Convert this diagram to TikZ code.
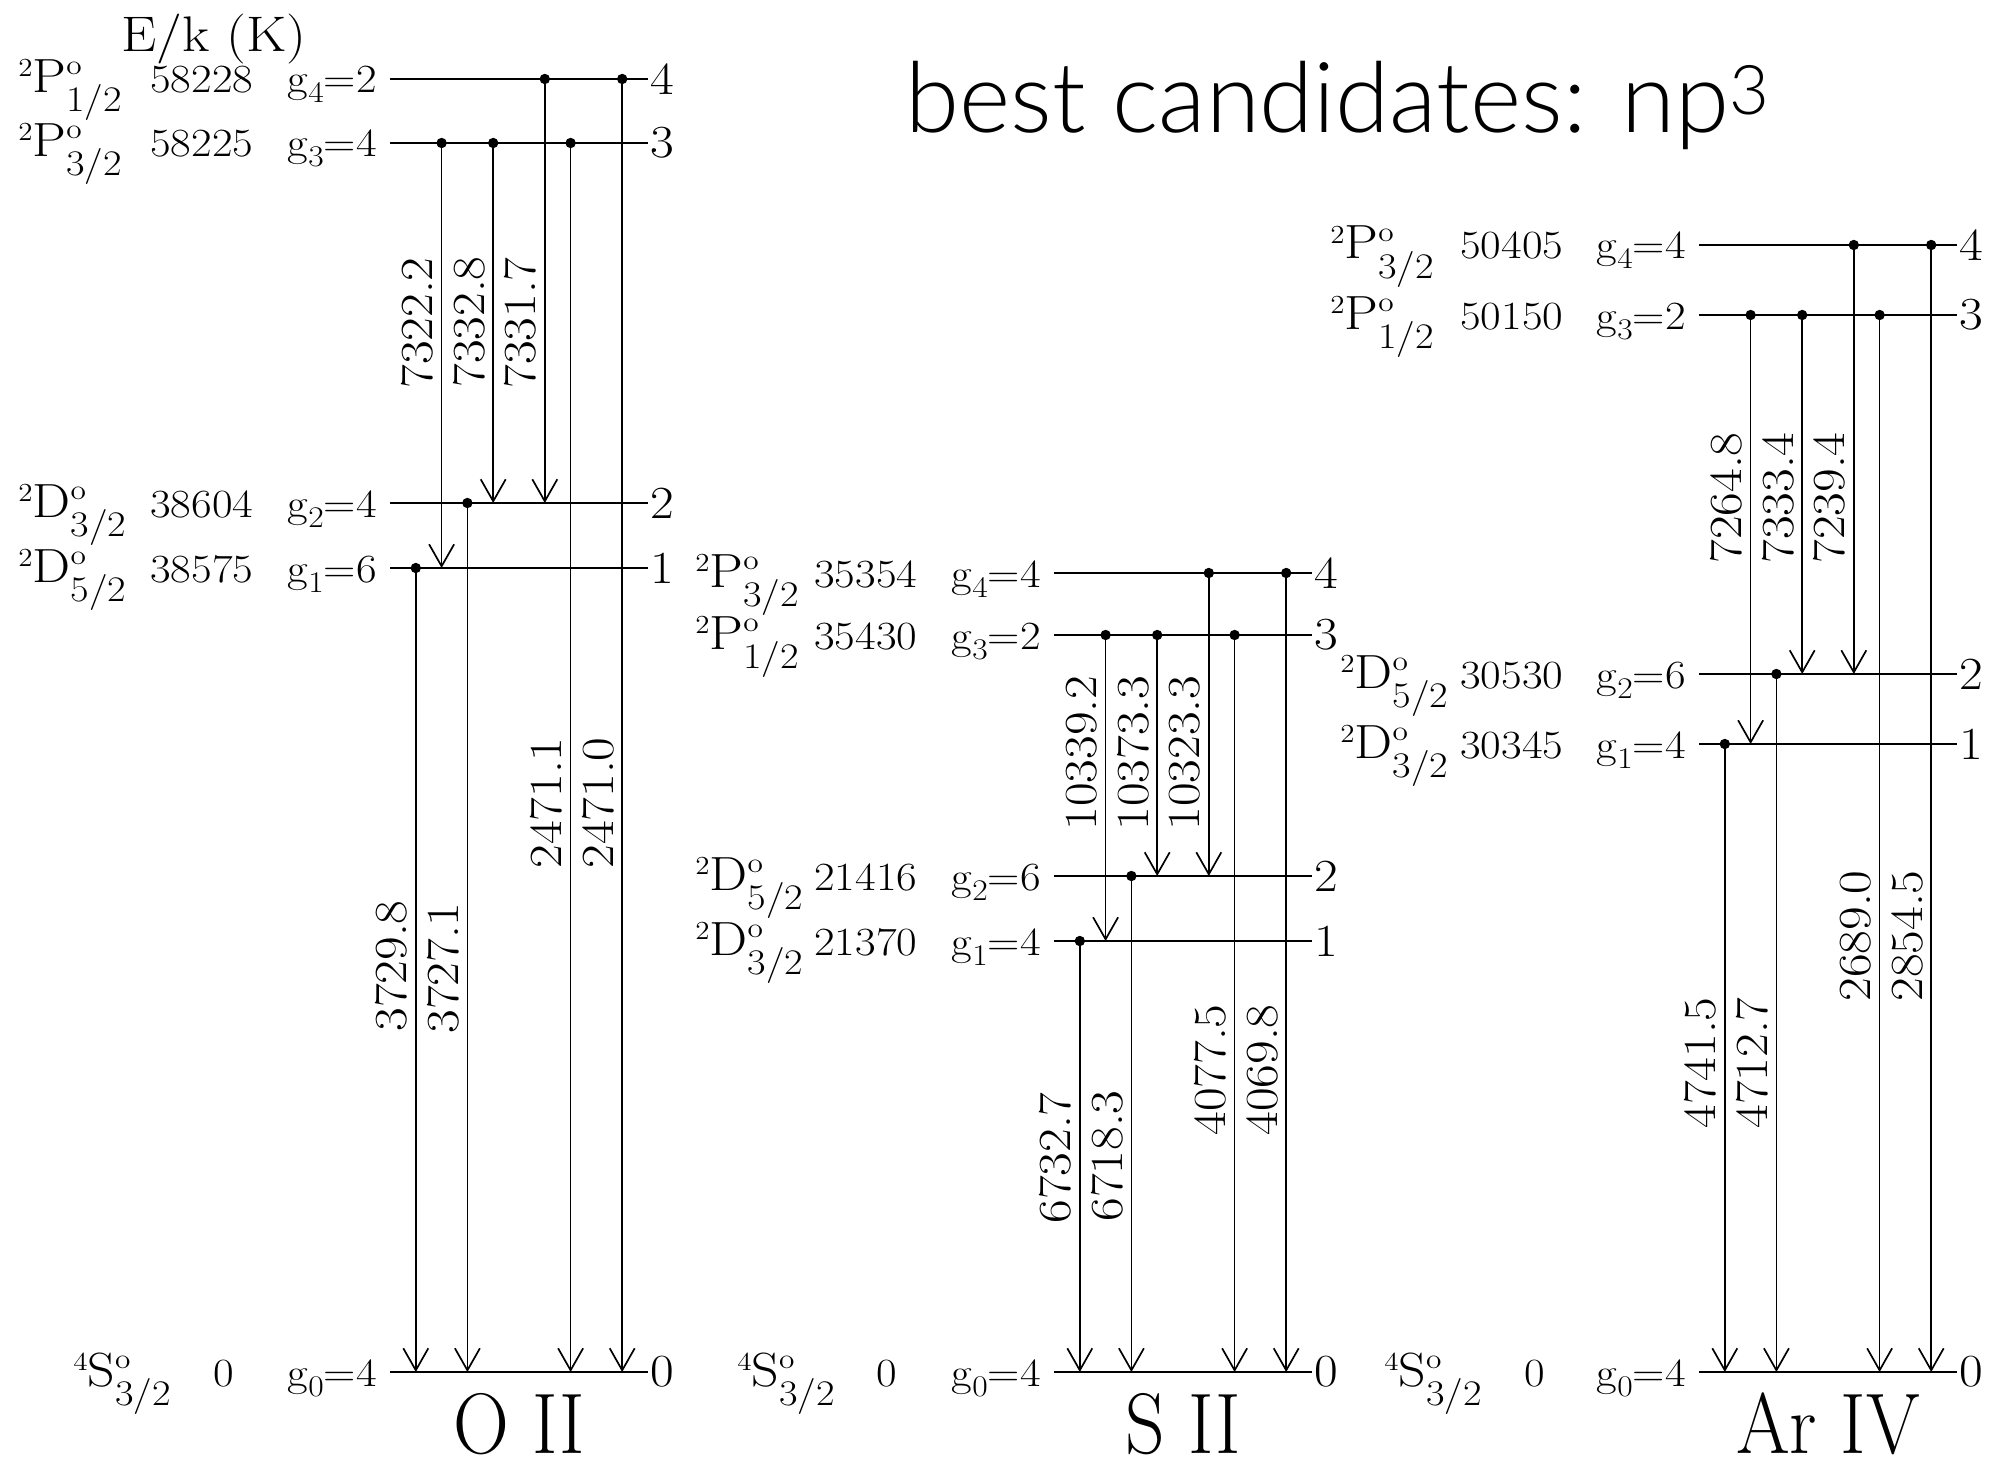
\documentclass[tikz,border=0pt]{standalone}
\usepackage{fontspec}
\setmainfont{Latin Modern Roman}[FakeStretch=1.12]
\newfontfamily\panelfont{Latin Modern Roman}[FakeStretch=0.9]
\newfontfamily\titlefont{Lato Light}
\usetikzlibrary{arrows.meta,calc}
\newcommand\fs[1]{\fontsize{#1}{#1}\selectfont}
\newcommand\trm[3]{{\fs{13}\raisebox{8pt}{#1}}{\fs{24}#2}\rlap{\fs{14}\raisebox{9pt}{o}}{\fs{18}\raisebox{-9.5pt}{#3}}}
\newcommand\gval[2]{g{\fs{15}\raisebox{-5pt}{#1}}=#2}
\tikzset{
  x=0.5pt,y=-0.5pt,
  lvl/.style={line width=0.85pt},
  trans/.style={line width=0.85pt,-{Straight Barb[length=11pt,width=12.5pt,line width=0.85pt]}},
  idx/.style={anchor=west,inner sep=0pt,xshift=1pt,font=\fs{23}},
  wl/.style={rotate=90,anchor=south,inner sep=0pt,font=\fs{23}},
  lab/.style={inner sep=0pt,font=\fs{20}},
  pan/.style={anchor=base,inner sep=0pt,font=\panelfont\fs{43}},
}
% #1 name, #2 x term, #3 x energy, #4 x line start, #5 y, #6 term, #7 energy, #8 g part
\newcommand\lev[8]{%
  \node[lab,anchor=base west] (#1t) at (#2,#5+14) {#6};
  \node[lab,anchor=base west] (#1e) at (#3,#5+14) {#7};
  \node[lab,anchor=base east] (#1g) at (#4-13,#5+14) {#8};
}
% #1 name, #2 x0, #3..#6 y of levels 1..4
\newcommand\panel[6]{%
  \foreach \i/\yy in {0/1372,1/#3,2/#4,3/#5,4/#6}{
    \coordinate (#1L\i-a) at (#2,\yy);
    \coordinate (#1L\i-b) at (#2+258,\yy);
    \draw[lvl] (#1L\i-a) -- (#1L\i-b);
    \node[idx] (#1n\i) at (#1L\i-b) {\i};
  }
  \foreach \k/\u/\l in {1/1/0,2/3/1,3/2/0,4/3/2,6/4/2,7/3/0,9/4/0}{
    \coordinate (#1T\k-u) at ($(#1L\u-a)+(\k*25.8,0)$);
    \coordinate (#1T\k-l) at ($(#1L\l-a)+(\k*25.8,0)$);
    \draw[trans] (#1T\k-u) -- (#1T\k-l);
    \fill (#1T\k-u) circle[radius=2.6pt];
  }
}
% #1 name, #2 x0, #3 list k/y/text
\newcommand\wls[3]{%
  \foreach \k/\yc/\wtxt in {#3}{
    \pgfmathsetmacro\xx{#2+\k*25.8-8}
    \node[wl] (#1W\k) at (\xx,\yc) {\wtxt};
  }
}
\begin{document}
\begin{tikzpicture}
\useasboundingbox (0,0) rectangle (1991,1466);
\node[anchor=base west,inner sep=0pt,font=\titlefont\fs{49}] (title) at (905,133) {best candidates: np\textsuperscript{3}};
\node[anchor=base,inner sep=0pt,font=\fs{25}] (ek) at (214,52) {E/k (K)};

% O II
\panel{O}{390}{568}{503}{143}{79}
\wls{O}{390}{1/966/3729.8,2/323/7322.2,3/968/3727.1,4/322/7332.8,6/323/7331.7,7/803/2471.1,9/803/2471.0}
\lev{O4}{18}{150}{390}{79}{\trm{2}{P}{1/2}}{58228}{\gval{4}{2}}
\lev{O3}{18}{150}{390}{143}{\trm{2}{P}{3/2}}{58225}{\gval{3}{4}}
\lev{O2}{18}{150}{390}{503}{\trm{2}{D}{3/2}}{38604}{\gval{2}{4}}
\lev{O1}{18}{150}{390}{568}{\trm{2}{D}{5/2}}{38575}{\gval{1}{6}}
\lev{O0}{73}{213}{390}{1372}{\trm{4}{S}{3/2}}{0}{\gval{0}{4}}
\node[pan] (Oname) at (519,1453) {O II};

% S II
\panel{S}{1054}{941}{876}{635}{573}
\wls{S}{1054}{1/1158/6732.7,2/753/10339.2,3/1156/6718.3,4/753/10373.3,6/753/10323.3,7/1070/4077.5,9/1070/4069.8}
\lev{S4}{695}{814}{1054}{573}{\trm{2}{P}{3/2}}{35354}{\gval{4}{4}}
\lev{S3}{695}{814}{1054}{635}{\trm{2}{P}{1/2}}{35430}{\gval{3}{2}}
\lev{S2}{695}{814}{1054}{876}{\trm{2}{D}{5/2}}{21416}{\gval{2}{6}}
\lev{S1}{695}{814}{1054}{941}{\trm{2}{D}{3/2}}{21370}{\gval{1}{4}}
\lev{S0}{737}{876}{1054}{1372}{\trm{4}{S}{3/2}}{0}{\gval{0}{4}}
\node[pan] (Sname) at (1183,1453) {S II};

% Ar IV
\panel{A}{1699}{744}{674}{315}{245}
\wls{A}{1699}{1/1063/4741.5,2/498/7264.8,3/1063/4712.7,4/498/7333.4,6/498/7239.4,7/936/2689.0,9/936/2854.5}
\lev{A4}{1330}{1460}{1699}{245}{\trm{2}{P}{3/2}}{50405}{\gval{4}{4}}
\lev{A3}{1330}{1460}{1699}{315}{\trm{2}{P}{1/2}}{50150}{\gval{3}{2}}
\lev{A2}{1340}{1460}{1699}{674}{\trm{2}{D}{5/2}}{30530}{\gval{2}{6}}
\lev{A1}{1340}{1460}{1699}{744}{\trm{2}{D}{3/2}}{30345}{\gval{1}{4}}
\lev{A0}{1384}{1524}{1699}{1372}{\trm{4}{S}{3/2}}{0}{\gval{0}{4}}
\node[pan] (Aname) at (1828,1453) {Ar IV};
\end{tikzpicture}
\end{document}
